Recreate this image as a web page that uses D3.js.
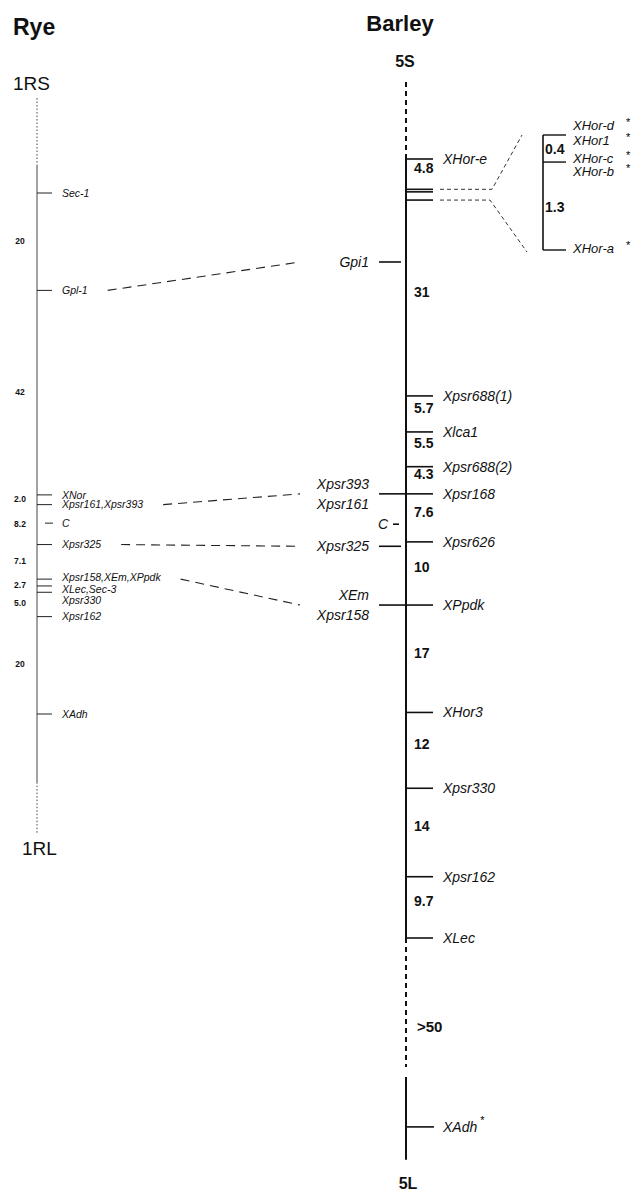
<!DOCTYPE html>
<html>
<head>
<meta charset="utf-8">
<script src="https://cdn.jsdelivr.net/npm/d3@7"></script>
<style>
  body { margin: 0; background: #fff; }
  svg { font-family: "Liberation Sans", Arial, Helvetica, sans-serif; }
  .mk { font-style: italic; fill: #111; }
  .dist { font-weight: bold; fill: #111; }
  .title { font-weight: bold; fill: #111; }
</style>
</head>
<body>
<svg id="chart" width="640" height="1192"></svg>
<script>
// rye 1R framework map (cM between neighbours)
const ryeMarkers = ["Sec-1", "Gpl-1", "XNor", "Xpsr161,Xpsr393", "Xpsr325", "Xpsr158,XEm,XPpdk", "Xpsr330", "Xpsr162", "XAdh"];
const ryeIntervals = [20, 42, 2.0, 8.2, 7.1, 2.7, 5.0, 20];
// placed without an interval
const ryeExtraNames = ["C", "XLec,Sec-3"];
const ryeExtraPos = [67.8, 80.7];
const ryeEnds = [-19.5, -5.7, 121, 131.4]; // dotted top .. solid .. dotted bottom

// barley 5 map
const barleyMarkers = ["XHor-e", "XHor-d", "XHor-c", "XHor-a", "Xpsr688(1)", "Xlca1", "Xpsr688(2)", "Xpsr168", "Xpsr626", "XPpdk", "XHor3", "Xpsr330", "Xpsr162", "XLec"];
const barleyIntervals = [4.8, 0.4, 1.3, 31, 5.7, 5.5, 4.3, 7.6, 10, 17, 12, 14, 9.7];
const barleyCluster = ["XHor-d", "XHor-c", "XHor-a"];   // shown in the inset
const barleyEnds = [-12.2, 143.7, 145.3, 158.4];
const distalName = "XAdh";
const distalPos = 153.2;
const distalLabel = ">50";

// markers written on the left of barley
const leftNames = [["Gpi1"], ["Xpsr393", "Xpsr161"], ["C"], ["Xpsr325"], ["XEm", "Xpsr158"]];
const leftPos = [16.3, 53.0, 57.8, 61.3, 70.6];

// hordein inset
const hordeinNames = [["XHor-d", "XHor1"], ["XHor-c", "XHor-b"], ["XHor-a"]];
const hordeinIntervals = [0.4, 1.3];

// rye -> barley homologues
const linksRye = ["Gpl-1", "Xpsr161,Xpsr393", "Xpsr325", "Xpsr158,XEm,XPpdk"];
const linksBarley = ["Gpi1", "Xpsr393", "Xpsr325", "XEm"];

const fmt = d => d < 10 ? d.toFixed(1) : String(d);
const svg = d3.select("#chart");

// ---------- rye ----------
const rx = 37;
const ryePos = Array.from(d3.cumsum([0, ...ryeIntervals]));
const yR = d3.scaleLinear().domain([0, d3.max(ryePos)]).range([193, 714]);
const ryeY = {};
ryeMarkers.forEach((m, i) => ryeY[m] = yR(ryePos[i]));
ryeExtraNames.forEach((m, i) => ryeY[m] = yR(ryeExtraPos[i]));

svg.append("text").attr("class", "title").attr("x", 13).attr("y", 35).attr("font-size", 23).text("Rye");
svg.append("text").attr("x", 13).attr("y", 90).attr("font-size", 19).attr("fill", "#111").text("1RS");
svg.append("text").attr("x", 22).attr("y", 855).attr("font-size", 19).attr("fill", "#111").text("1RL");

const gR = svg.append("g");
[[0, 1, true], [1, 2, false], [2, 3, true]].forEach(([a, b, dotted]) => {
  gR.append("line").attr("x1", rx).attr("x2", rx)
    .attr("y1", yR(ryeEnds[a])).attr("y2", yR(ryeEnds[b]))
    .attr("stroke", "#444").attr("stroke-width", 1)
    .attr("stroke-dasharray", dotted ? "1.5,2" : null);
});

const ryeNudge = {"Xpsr158,XEm,XPpdk": -2, "XLec,Sec-3": 3, "Xpsr330": 8};
const ryeAll = ryeMarkers.concat(ryeExtraNames);
ryeAll.forEach(m => {
  const y = ryeY[m];
  gR.append("line").attr("x1", m === "C" ? 45 : rx).attr("x2", m === "C" ? 53 : 52)
    .attr("y1", y).attr("y2", y).attr("stroke", "#222").attr("stroke-width", 1);
  gR.append("text").attr("class", "mk").attr("x", 62).attr("y", y + (ryeNudge[m] || 0))
    .attr("dy", "0.35em").attr("font-size", 10.5).text(m);
});

ryeIntervals.forEach((d, i) => {
  gR.append("text").attr("class", "dist").attr("x", 20).attr("text-anchor", "middle")
    .attr("y", (yR(ryePos[i]) + yR(ryePos[i + 1])) / 2 - 1).attr("dy", "0.35em")
    .attr("font-size", 8.5).text(fmt(d));
});

// ---------- barley ----------
const bx = 406;
const barPos = Array.from(d3.cumsum([0, ...barleyIntervals]));
const yB = d3.scaleLinear().domain([0, d3.max(barPos)]).range([159, 938]);
const barY = {};
barleyMarkers.forEach((m, i) => barY[m] = yB(barPos[i]));

svg.append("text").attr("class", "title").attr("x", 400).attr("y", 31).attr("text-anchor", "middle").attr("font-size", 22).text("Barley");
svg.append("text").attr("class", "title").attr("x", 405).attr("y", 67).attr("text-anchor", "middle").attr("font-size", 16).text("5S");
svg.append("text").attr("class", "title").attr("x", 408).attr("y", 1189).attr("text-anchor", "middle").attr("font-size", 16).text("5L");

const gB = svg.append("g");
[[barleyEnds[0], 0, true], [0, d3.max(barPos), false], [d3.max(barPos), barleyEnds[1], true], [barleyEnds[2], barleyEnds[3], false]]
  .forEach(([a, b, dashed]) => {
    gB.append("line").attr("x1", bx).attr("x2", bx).attr("y1", yB(a)).attr("y2", yB(b))
      .attr("stroke", "#111").attr("stroke-width", 2)
      .attr("stroke-dasharray", dashed ? "5,4" : null);
  });

barleyMarkers.forEach(m => {
  const y = barY[m];
  gB.append("line").attr("x1", bx).attr("x2", 433).attr("y1", y).attr("y2", y)
    .attr("stroke", "#111").attr("stroke-width", 1.6);
  if (barleyCluster.indexOf(m) < 0) {
    gB.append("text").attr("class", "mk").attr("x", 443).attr("y", y).attr("dy", "0.35em")
      .attr("font-size", 14).text(m);
  }
});

barleyIntervals.forEach((d, i) => {
  if (i === 1 || i === 2) return; // labelled in the inset
  gB.append("text").attr("class", "dist").attr("x", 414)
    .attr("y", (yB(barPos[i]) + yB(barPos[i + 1])) / 2 - 6).attr("dy", "0.35em")
    .attr("font-size", 14).text(fmt(d));
});

// distal marker
const yAdh = yB(distalPos);
gB.append("line").attr("x1", bx).attr("x2", 434).attr("y1", yAdh).attr("y2", yAdh)
  .attr("stroke", "#111").attr("stroke-width", 1.6);
const adhTxt = gB.append("text").attr("class", "mk").attr("x", 443).attr("y", yAdh).attr("dy", "0.35em")
  .attr("font-size", 14).text(distalName);
gB.append("text").attr("x", 443 + adhTxt.node().getComputedTextLength() + 3).attr("y", yAdh - 3)
  .attr("font-size", 11).text("*");
gB.append("text").attr("class", "dist").attr("x", 417)
  .attr("y", (yB(d3.max(barPos)) + yAdh) / 2 - 6).attr("dy", "0.35em")
  .attr("font-size", 15).text(distalLabel);

// left side markers
const leftY = {};
leftNames.forEach((names, i) => {
  const y = yB(leftPos[i]);
  names.forEach(n => leftY[n] = y);
  const isC = names[0] === "C";
  gB.append("line").attr("x1", isC ? 393 : 379).attr("x2", isC ? 399 : (names.length > 1 ? bx : 401))
    .attr("y1", y).attr("y2", y).attr("stroke", "#111").attr("stroke-width", 1.6);
  const offs = names.length > 1 ? [-10, 10] : [0];
  names.forEach((n, j) => {
    gB.append("text").attr("class", "mk").attr("x", isC ? 388 : 369).attr("y", y + offs[j])
      .attr("dy", "0.35em").attr("text-anchor", "end").attr("font-size", 14).text(n);
  });
});

// ---------- hordein inset ----------
const ix = 543;
const insPos = Array.from(d3.cumsum([0, ...hordeinIntervals]));
const yI = d3.scaleLinear().domain([0, d3.max(insPos)]).range([135, 250]);
const gI = svg.append("g");
gI.append("line").attr("x1", ix).attr("x2", ix).attr("y1", yI(0)).attr("y2", yI(d3.max(insPos)))
  .attr("stroke", "#111").attr("stroke-width", 1.6);
// label offsets (above / below the tick) per locus
const insOffs = [[-10, 5], [-4, 9], [-2]];
hordeinNames.forEach((names, i) => {
  const y = yI(insPos[i]);
  gI.append("line").attr("x1", ix).attr("x2", 566).attr("y1", y).attr("y2", y)
    .attr("stroke", "#111").attr("stroke-width", 1.4);
  names.forEach((n, j) => {
    const ty = y + insOffs[i][j];
    gI.append("text").attr("class", "mk").attr("x", 573).attr("y", ty).attr("dy", "0.35em")
      .attr("font-size", 13).text(n);
    gI.append("text").attr("x", 626).attr("y", ty + 1).attr("font-size", 11).text("*");
  });
});
hordeinIntervals.forEach((d, i) => {
  gI.append("text").attr("class", "dist").attr("x", 545)
    .attr("y", (yI(insPos[i]) + yI(insPos[i + 1])) / 2 + 1).attr("dy", "0.35em")
    .attr("font-size", 14).text(fmt(d));
});
// dashed zoom guides
const guideTop = yB(barPos[1]), guideBot = yB(barPos[3]);
gI.append("path").attr("d", `M440,${guideTop}H492L522,${yI(0)}`)
  .attr("fill", "none").attr("stroke", "#333").attr("stroke-width", 1).attr("stroke-dasharray", "4,3");
gI.append("path").attr("d", `M440,${guideBot}H490L527,${yI(d3.max(insPos)) + 2}`)
  .attr("fill", "none").attr("stroke", "#333").attr("stroke-width", 1).attr("stroke-dasharray", "4,3");

// ---------- rye-barley links ----------
const ryeTextLen = {};
gR.selectAll("text.mk").each(function () { ryeTextLen[this.textContent] = this.getComputedTextLength(); });
linksRye.forEach((r, i) => {
  const x1 = 62 + ryeTextLen[r] + 20;
  svg.append("line").attr("x1", x1).attr("y1", ryeY[r]).attr("x2", 300).attr("y2", leftY[linksBarley[i]])
    .attr("stroke", "#222").attr("stroke-width", 1.1).attr("stroke-dasharray", "9,6");
});
</script>
</body>
</html>
